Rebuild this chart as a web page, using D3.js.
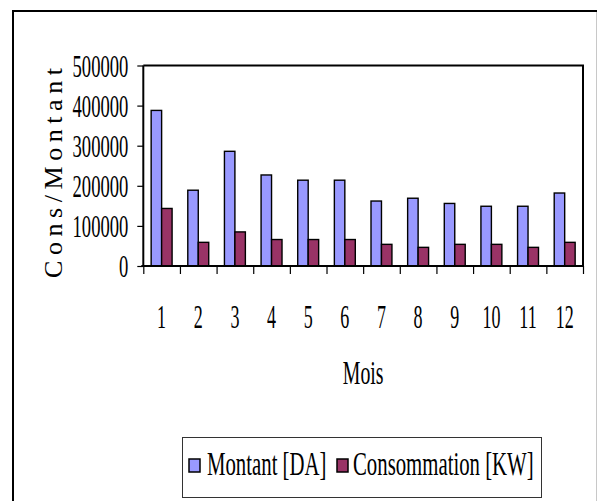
<!DOCTYPE html>
<html><head><meta charset="utf-8">
<script src="https://cdn.jsdelivr.net/npm/d3@7"></script>
<style>
html,body{margin:0;padding:0;background:#fff;}
svg{display:block;}
text{font-family:"Liberation Serif","Times New Roman",serif;fill:#000;}
</style></head>
<body>
<svg id="c" width="597" height="501"></svg>
<script>
const months = ["1","2","3","4","5","6","7","8","9","10","11","12"];
const montant = [388000,189000,286000,227000,214000,214000,162000,169000,156000,149000,149000,182000];
const consommation = [143500,59000,85000,66000,66000,66000,54000,46500,54000,54000,46500,59000];
const seriesNames = ["Montant [DA]","Consommation [KW]"];
const seriesColors = ["#9999FF","#993366"];
const yTicks = [0,100000,200000,300000,400000,500000];

const svg = d3.select("#c");
const L = 143.3, R = 583, T = 65.5, B = 266;

// outer frame
svg.append("line").attr("x1",13).attr("x2",13).attr("y1",10).attr("y2",501).attr("stroke","#000").attr("stroke-width",2);
svg.append("line").attr("x1",12).attr("x2",597).attr("y1",11).attr("y2",11).attr("stroke","#000").attr("stroke-width",2);
svg.append("line").attr("x1",596.5).attr("x2",596.5).attr("y1",12).attr("y2",501).attr("stroke","#c8c8c8").attr("stroke-width",1);

const x = d3.scaleBand().domain(months).range([L,R]).paddingInner(0).paddingOuter(0);
const y = d3.scaleLinear().domain([0,500000]).range([B,T]);
const bw = x.bandwidth()/3.5;
const inner = d3.scaleBand().domain([0,1]).range([0,2*bw]);

// plot border top/right
svg.append("line").attr("x1",L).attr("x2",R+1).attr("y1",T).attr("y2",T).attr("stroke","#000").attr("stroke-width",2);
svg.append("line").attr("x1",R).attr("x2",R).attr("y1",T).attr("y2",B).attr("stroke","#000").attr("stroke-width",2);

// bars
const data = months.map((m,i)=>({m, v:[montant[i],consommation[i]]}));
const g = svg.append("g");
data.forEach(d=>{
  d.v.forEach((v,k)=>{
    g.append("rect")
      .attr("x", x(d.m) + 0.75*bw + inner(k))
      .attr("y", y(v))
      .attr("width", bw)
      .attr("height", y(0)-y(v))
      .attr("fill", seriesColors[k])
      .attr("stroke","#000").attr("stroke-width",1.4);
  });
});

// compress text horizontally with a transform (keeps real bbox)
function squeeze(sel, f){
  sel.each(function(){
    const t = d3.select(this);
    const x0 = +(t.attr("x") || 0);
    t.attr("x", x0/f).attr("transform", `scale(${f},1)`);
  });
}

// y axis
const ya = svg.append("g").attr("transform",`translate(${L},0)`)
  .call(d3.axisLeft(y).tickValues(yTicks).tickSize(6).tickPadding(9).tickFormat(d3.format("d")));
ya.select(".domain").attr("stroke","#000").attr("stroke-width",2).attr("d",`M0,${T}V${B}`);
ya.selectAll(".tick line").attr("stroke","#000").attr("stroke-width",1.2);
ya.selectAll("text").style("font-size","31px").attr("dy","0.34em")
  .style("font-family",'"Liberation Serif",serif').attr("fill","#000");
squeeze(ya.selectAll("text"),0.6);

// x axis ticks (boundaries)
const xb = d3.scaleLinear().domain([0,12]).range([L,R]);
const xa2 = svg.append("g").attr("transform",`translate(0,${B})`)
  .call(d3.axisBottom(xb).ticks(12).tickSize(8).tickFormat(""));
xa2.select(".domain").attr("stroke","#000").attr("stroke-width",2).attr("d",`M${L-2},0H${R+1}`);
xa2.selectAll(".tick line").attr("stroke","#000").attr("stroke-width",1.2);

// x labels
const xa = svg.append("g").attr("transform",`translate(0,${B})`)
  .call(d3.axisBottom(x).tickSize(0).tickPadding(0));
xa.select(".domain").remove();
xa.selectAll("text").style("font-size","34px").attr("dy",null).attr("y",62)
  .style("font-family",'"Liberation Serif",serif').attr("fill","#000");
squeeze(xa.selectAll("text"),0.53);

// axis titles
const moisG = svg.append("g").attr("transform",`translate(${(L+R)/2},384)`);
moisG.append("text").attr("text-anchor","middle").attr("transform","scale(0.6,1)")
  .style("font-size","33px").text("Mois");

svg.append("text").attr("transform","translate(62,173) rotate(-90)").attr("text-anchor","middle")
  .style("font-size","26px").attr("textLength",210).attr("lengthAdjust","spacing")
  .text("C o n s / M o n t a n t");

// legend
svg.append("rect").attr("x",182.5).attr("y",437.5).attr("width",359).attr("height",60)
  .attr("fill","#fff").attr("stroke","#333").attr("stroke-width",1);
const legX = [189, 337], legTX = [207, 353], legF = [0.63, 0.63];
seriesNames.forEach((n,k)=>{
  svg.append("rect").attr("x",legX[k]).attr("y",459).attr("width",11).attr("height",13)
    .attr("fill",seriesColors[k]).attr("stroke","#000").attr("stroke-width",1.5);
  const lg = svg.append("g").attr("transform",`translate(${legTX[k]},475)`);
  lg.append("text").attr("transform",`scale(${legF[k]},1)`).style("font-size","33px").text(n);
});
</script>
</body></html>
